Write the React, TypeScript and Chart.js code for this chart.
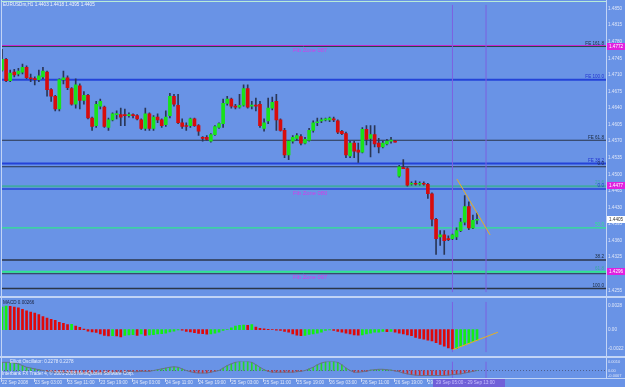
import React, { useEffect, useRef } from 'react';
import { Chart, registerables } from 'chart.js';

Chart.register(...registerables);

// ---------------- data ----------------
const headerText = 'EURUSDm,H1 1.4403 1.4418 1.4395 1.4405';

const opens = [
  1.4720, 1.4743, 1.4698, 1.4716, 1.4712, 1.4716, 1.4726, 1.4704, 1.4702, 1.4700,
  1.4706, 1.4716, 1.4679, 1.4665, 1.4638, 1.4700, 1.4704, 1.4681, 1.4648, 1.4687,
  1.4656, 1.4667, 1.4619, 1.4603, 1.4644, 1.4642, 1.4599, 1.4615, 1.4626, 1.4626,
  1.4626, 1.4624, 1.4626, 1.4624, 1.4615, 1.4597, 1.4628, 1.4597, 1.4621, 1.4615,
  1.4605, 1.4624, 1.4665, 1.4646, 1.4609, 1.4603, 1.4603, 1.4617, 1.4603, 1.4578,
  1.4578, 1.4570, 1.4584, 1.4599, 1.4607, 1.4650, 1.4659, 1.4644, 1.4642, 1.4646,
  1.4681, 1.4644, 1.4646, 1.4648, 1.4597, 1.4613, 1.4640, 1.4654, 1.4615, 1.4593,
  1.4541, 1.4570, 1.4576, 1.4580, 1.4566, 1.4572, 1.4593, 1.4609, 1.4613, 1.4615,
  1.4615, 1.4617, 1.4613, 1.4591, 1.4586, 1.4539, 1.4566, 1.4551, 1.4547, 1.4595,
  1.4576, 1.4584, 1.4566, 1.4558, 1.4564, 1.4570, 1.4570, 1.4496, 1.4514, 1.4512,
  1.4479, 1.4481, 1.4479, 1.4481, 1.4479, 1.4459, 1.4405, 1.4368, 1.4372, 1.4364,
  1.4364, 1.4368, 1.4381, 1.4399, 1.4432, 1.4387, 1.4403,
];
const highs = [
  1.4764, 1.4745, 1.4720, 1.4722, 1.4724, 1.4733, 1.4729, 1.4712, 1.4706, 1.4720,
  1.4726, 1.4718, 1.4681, 1.4667, 1.4702, 1.4718, 1.4708, 1.4683, 1.4702, 1.4691,
  1.4675, 1.4669, 1.4621, 1.4654, 1.4659, 1.4644, 1.4619, 1.4630, 1.4634, 1.4640,
  1.4638, 1.4630, 1.4628, 1.4626, 1.4617, 1.4640, 1.4630, 1.4624, 1.4628, 1.4617,
  1.4634, 1.4671, 1.4669, 1.4669, 1.4617, 1.4609, 1.4619, 1.4619, 1.4605, 1.4580,
  1.4582, 1.4586, 1.4603, 1.4609, 1.4659, 1.4665, 1.4661, 1.4648, 1.4669, 1.4689,
  1.4689, 1.4654, 1.4661, 1.4654, 1.4617, 1.4661, 1.4663, 1.4669, 1.4617, 1.4597,
  1.4572, 1.4582, 1.4586, 1.4584, 1.4578, 1.4597, 1.4613, 1.4619, 1.4619, 1.4619,
  1.4621, 1.4621, 1.4615, 1.4593, 1.4589, 1.4570, 1.4570, 1.4566, 1.4599, 1.4603,
  1.4603, 1.4603, 1.4576, 1.4570, 1.4574, 1.4578, 1.4572, 1.4519, 1.4531, 1.4514,
  1.4484, 1.4486, 1.4484, 1.4484, 1.4481, 1.4461, 1.4407, 1.4381, 1.4381, 1.4370,
  1.4374, 1.4387, 1.4407, 1.4455, 1.4442, 1.4414, 1.4418,
];
const lows = [
  1.4718, 1.4696, 1.4696, 1.4706, 1.4708, 1.4712, 1.4702, 1.4696, 1.4689, 1.4696,
  1.4702, 1.4665, 1.4654, 1.4634, 1.4634, 1.4691, 1.4679, 1.4646, 1.4640, 1.4638,
  1.4648, 1.4617, 1.4593, 1.4599, 1.4638, 1.4599, 1.4593, 1.4613, 1.4617, 1.4603,
  1.4603, 1.4621, 1.4619, 1.4615, 1.4595, 1.4593, 1.4593, 1.4593, 1.4609, 1.4599,
  1.4601, 1.4619, 1.4644, 1.4607, 1.4597, 1.4593, 1.4599, 1.4601, 1.4582, 1.4570,
  1.4572, 1.4568, 1.4582, 1.4597, 1.4599, 1.4646, 1.4640, 1.4638, 1.4640, 1.4644,
  1.4640, 1.4638, 1.4634, 1.4599, 1.4591, 1.4607, 1.4636, 1.4593, 1.4591, 1.4535,
  1.4531, 1.4566, 1.4572, 1.4562, 1.4564, 1.4570, 1.4589, 1.4603, 1.4609, 1.4613,
  1.4611, 1.4611, 1.4586, 1.4584, 1.4535, 1.4535, 1.4535, 1.4525, 1.4545, 1.4562,
  1.4537, 1.4558, 1.4545, 1.4556, 1.4562, 1.4566, 1.4568, 1.4494, 1.4512, 1.4475,
  1.4477, 1.4477, 1.4477, 1.4477, 1.4449, 1.4391, 1.4331, 1.4350, 1.4331, 1.4360,
  1.4362, 1.4362, 1.4379, 1.4393, 1.4383, 1.4385, 1.4395,
];
const closes = [
  1.4743, 1.4698, 1.4714, 1.4710, 1.4718, 1.4726, 1.4704, 1.4702, 1.4700, 1.4708,
  1.4718, 1.4679, 1.4665, 1.4638, 1.4700, 1.4704, 1.4683, 1.4648, 1.4689, 1.4656,
  1.4667, 1.4619, 1.4601, 1.4648, 1.4654, 1.4601, 1.4615, 1.4628, 1.4628, 1.4621,
  1.4624, 1.4626, 1.4624, 1.4617, 1.4597, 1.4628, 1.4597, 1.4621, 1.4615, 1.4603,
  1.4621, 1.4665, 1.4648, 1.4609, 1.4601, 1.4601, 1.4617, 1.4603, 1.4591, 1.4576,
  1.4574, 1.4584, 1.4601, 1.4607, 1.4650, 1.4659, 1.4644, 1.4642, 1.4646, 1.4681,
  1.4642, 1.4646, 1.4644, 1.4603, 1.4609, 1.4640, 1.4652, 1.4615, 1.4593, 1.4541,
  1.4570, 1.4578, 1.4582, 1.4566, 1.4574, 1.4593, 1.4609, 1.4611, 1.4615, 1.4617,
  1.4619, 1.4615, 1.4589, 1.4586, 1.4541, 1.4566, 1.4549, 1.4547, 1.4595, 1.4574,
  1.4584, 1.4564, 1.4558, 1.4566, 1.4570, 1.4572, 1.4568, 1.4516, 1.4512, 1.4477,
  1.4481, 1.4479, 1.4481, 1.4479, 1.4459, 1.4405, 1.4364, 1.4372, 1.4360, 1.4362,
  1.4372, 1.4381, 1.4399, 1.4432, 1.4387, 1.4403, 1.4405,
];

const macdValues = [
  0.00260, 0.00270, 0.00268, 0.00260, 0.00250, 0.00233, 0.00217, 0.00200, 0.00190, 0.00173,
  0.00150, 0.00133, 0.00117, 0.00107, 0.00083, 0.00073, 0.00058, 0.00060, 0.00040, 0.00027,
  0.00005, -0.00017, -0.00027, -0.00033, -0.00050, -0.00067, -0.00073, -0.00070, -0.00073, -0.00083,
  -0.00067, -0.00060, -0.00058, -0.00067, -0.00050, -0.00067, -0.00060, -0.00058, -0.00050, -0.00048,
  -0.00040, -0.00027, -0.00017, -0.00003, -0.00007, -0.00020, -0.00027, -0.00035, -0.00043, -0.00047,
  -0.00052, -0.00050, -0.00040, -0.00030, -0.00010, 0.00000, 0.00020, 0.00040, 0.00050, 0.00053,
  0.00050, 0.00057, 0.00030, 0.00015, 0.00010, 0.00003, 0.00000, -0.00005, -0.00010, -0.00020,
  -0.00030, -0.00050, -0.00063, -0.00070, -0.00067, -0.00055, -0.00050, -0.00040, -0.00030, -0.00010,
  -0.00003, -0.00010, -0.00020, -0.00030, -0.00040, -0.00050, -0.00060, -0.00063, -0.00060, -0.00050,
  -0.00040, -0.00030, -0.00028, -0.00020, -0.00023, -0.00020, -0.00030, -0.00040, -0.00050, -0.00060,
  -0.00070, -0.00090, -0.00100, -0.00110, -0.00120, -0.00130, -0.00150, -0.00170, -0.00190, -0.00210,
  -0.00223, -0.00220, -0.00193, -0.00177, -0.00160, -0.00137, -0.00120,
];

const oscValues = [
  0.0010, 0.0010, 0.0010, 0.0009, 0.0008, 0.0006, 0.0004, 0.0003, 0.0002, 0.0001,
  0.0000, -0.0001, -0.00015, -0.0002, -0.0002, -0.00025, -0.00025, -0.0003, -0.0003, -0.0003,
  -0.0003, -0.0003, -0.0003, -0.0003, -0.0003, -0.00025, -0.00025, -0.0002, -0.0002, -0.0002,
  -0.0002, -0.00015, -0.00015, -0.00015, -0.0001, -0.0001, -0.0001, 0.0000, 0.0001, 0.0002,
  0.0003, 0.0004, 0.00045, 0.0004, 0.0002, 0.0000, -0.00015, -0.00025, -0.0003, -0.0003,
  -0.0003, -0.0002, -0.0001, 0.0000, 0.0003, 0.0006, 0.0008, 0.0010, 0.0011, 0.00115,
  0.0011, 0.0010, 0.0007, 0.0004, 0.0001, -0.0001, -0.0002, -0.0002, -0.0002, -0.0002,
  -0.0002, -0.0002, -0.00015, -0.0001, 0.0000, 0.0002, 0.0004, 0.0007, 0.0009, 0.00105,
  0.0011, 0.0011, 0.0010, 0.0007, 0.0003, 0.0000, -0.0002, -0.0002, -0.00015, -0.0001,
  0.00005, 0.0001, 0.00015, 0.00015, 0.0001, 0.00005, -0.00005, -0.00015, -0.0003, -0.0004,
  -0.0005, -0.00055, -0.0006, -0.0006, -0.0006, -0.0006, -0.0006, -0.0006, -0.0006, -0.00055,
  -0.0005, -0.00045, -0.0004, -0.0003, -0.0002, -0.0001, 0.0000,
];

const timeLabelBars = [0, 8, 16, 24, 32, 40, 48, 56, 64, 72, 80, 88, 96, 104];
const timeLabels = [
  '22 Sep 2008', '23 Sep 03:00', '23 Sep 11:00', '23 Sep 19:00', '24 Sep 03:00',
  '24 Sep 11:00', '24 Sep 19:00', '25 Sep 03:00', '25 Sep 11:00', '25 Sep 19:00',
  '26 Sep 03:00', '26 Sep 11:00', '26 Sep 19:00', '29 Sep 03:00',
];
const selectedRangeText = '29 Sep 05:00 - 29 Sep 13:00';

const priceTicks = [
  1.4850, 1.4815, 1.4780, 1.4745, 1.4710, 1.4675, 1.4640, 1.4605, 1.4570,
  1.4535, 1.4500, 1.4465, 1.4430, 1.4395, 1.4360, 1.4325, 1.4290, 1.4255,
];
const macdTicks = [0.0028, 0, -0.0022];
const oscTicks = [0.0010, 0, -0.0007];

const fibLevelPrices = [1.4772, 1.4770, 1.4700, 1.4572, 1.4523, 1.4516, 1.4475, 1.4469, 1.4387, 1.4319, 1.4294, 1.4290, 1.4259];
const fibLabelPrices = [1.4770, 1.4700, 1.4572, 1.4523, 1.4516, 1.4475, 1.4469, 1.4387, 1.4319, 1.4294, 1.4259];
const fibLabelTexts = ['FE 161.8', 'FE 100.0', 'FE 61.8', 'FE 38.2', '0.0', '23.6', '0.0', '50.0', '38.2', '61.8', '100.0'];
const fibZonePrices = [1.4770, 1.4469, 1.4290];
const fibZoneTexts = ['Fib Zone 087', 'Fib Zone 080', 'Fib Zone 097'];
const tagPrices = [1.4772, 1.4477, 1.4405, 1.4296];

const vLineBars = [110, 118.2];
const trendBars = [111.1, 119.2];
const trendPrices = [1.4490, 1.4372];
const macdTrendBars = [110.1, 121.1];
const macdTrendValues = [-0.0023, -0.0003];

const macdLabel = 'MACD 0.00266';
const oscLabel = 'Elliott Oscillator: 0.2278 0.2278';
const copyrightText = 'Interbank FX Trader 4, \u00a9 2001-2008 MetaQuotes Software Corp.';

// ---------------- layout / style ----------------
const W = 625;
const BG = '#6993e6';
const FONT = '"Liberation Sans", "DejaVu Sans", sans-serif';
const X_MIN = -0.244;
const X_MAX = 147.5;
const PRICE_MAX = 1.485823;
const PRICE_MIN = 1.425088;
const MACD_MAX = 0.0032;
const MACD_MIN = -0.0026;
const OSC_MAX = 0.0011;
const OSC_MIN = -0.0009;

const BULL = '#1ae21a';
const BEAR = '#d80c0c';
const WICK = '#2a3656';
const VLINE = '#7d60e0';
const TREND = '#e8b020';
const LIGHT = '#c2d4f6';
const AXIS_TEXT = '#dfe6f8';

const fibLineColors = ['#cc22cc', '#1e4a3c', '#2443d8', '#2b3548', '#2443d8', '#2b3548', '#42a8a4', '#2443d8', '#2ee68e', '#2b3548', '#2ee68e', '#2b3548', '#2b3548'];
const fibLineWidths = [1, 1, 2, 1.2, 2, 1.2, 2, 1.5, 1.2, 1.5, 2, 1, 1.5];
const fibLabelColors = ['#1c2a3c', '#2233d0', '#1c2a3c', '#2233d0', '#1c2a3c', '#3aa8a0', '#2233d0', '#2ee68e', '#1c2a3c', '#3aa8a0', '#1c2a3c'];
const tagFills = ['#e020e0', '#e020e0', '#ffffff', '#e020e0'];
const tagTextColors = ['#ffffff', '#ffffff', '#303030', '#ffffff'];

const bars = opens.map((_, i) => i);

function yAxis(min: number, max: number, ticks: number[], fmt: (v: number) => string, size: number) {
  return {
    position: 'right',
    min,
    max,
    afterBuildTicks: (s: any) => {
      s.ticks = ticks.map((v) => ({ value: v }));
    },
    afterFit: (s: any) => {
      s.width = 19;
    },
    grid: { display: false, drawTicks: false },
    border: { display: false },
    ticks: {
      autoSkip: false,
      padding: 2,
      color: AXIS_TEXT,
      font: { size, family: FONT },
      callback: (v: any) => fmt(Number(v)),
    },
  };
}

const xAxis = { type: 'linear', min: X_MIN, max: X_MAX, display: false, offset: false };

function vLineSets(min: number, max: number) {
  return vLineBars.map((b) => ({
    type: 'line',
    data: [{ x: b, y: min }, { x: b, y: max }],
    borderColor: VLINE,
    borderWidth: 1,
    pointRadius: 0,
    fill: false,
    order: 4,
  }));
}

function text(ctx: any, s: string, x: number, y: number, color: string, size: number, align = 'left') {
  ctx.font = `${size}px ${FONT}`;
  ctx.fillStyle = color;
  ctx.textAlign = align;
  ctx.textBaseline = 'middle';
  ctx.fillText(s, x, y);
}

function baseOptions(padding: any, yScale: any) {
  return {
    responsive: false,
    animation: false,
    events: [],
    layout: { padding },
    plugins: { legend: { display: false }, tooltip: { enabled: false } },
    scales: { x: xAxis, y: yScale },
  };
}

function buildMain(canvas: HTMLCanvasElement) {
  const datasets: any[] = [
    {
      type: 'line',
      data: trendBars.map((b, i) => ({ x: b, y: trendPrices[i] })),
      borderColor: TREND,
      borderWidth: 1,
      pointRadius: 0,
      fill: false,
      order: -1,
    },
    {
      type: 'bar',
      data: bars.map((i) => ({ x: i, y: [opens[i], closes[i]] })),
      backgroundColor: bars.map((i) => (closes[i] >= opens[i] ? BULL : BEAR)),
      barThickness: 3,
      minBarLength: 1,
      grouped: false,
      order: 1,
    },
    {
      type: 'bar',
      data: bars.map((i) => ({ x: i, y: [lows[i], highs[i]] })),
      backgroundColor: WICK,
      barThickness: 1,
      grouped: false,
      order: 2,
    },
    ...vLineSets(PRICE_MIN, PRICE_MAX),
    ...fibLevelPrices.map((p, i) => ({
      type: 'line',
      data: [{ x: X_MIN, y: p }, { x: X_MAX, y: p }],
      borderColor: fibLineColors[i],
      borderWidth: fibLineWidths[i],
      pointRadius: 0,
      fill: false,
      order: 5,
    })),
  ];
  const decor = {
    id: 'mainDecor',
    afterDatasetsDraw(chart: any) {
      const { ctx, scales } = chart;
      const y = scales.y;
      ctx.save();
      text(ctx, headerText, 3, 5, '#f4f6ff', 4.6);
      fibLabelPrices.forEach((p, i) => {
        text(ctx, fibLabelTexts[i], 604, y.getPixelForValue(p) - 3, fibLabelColors[i], 4.6, 'right');
      });
      fibZonePrices.forEach((p, i) => {
        text(ctx, fibZoneTexts[i], 293, y.getPixelForValue(p) + 4, '#d23ee8', 5.8);
      });
      ctx.restore();
    },
    afterDraw(chart: any) {
      const { ctx, scales } = chart;
      const y = scales.y;
      ctx.save();
      ctx.fillStyle = LIGHT;
      ctx.fillRect(1, 0, 1, 297);
      ctx.fillRect(606, 0, 1, 297);
      ctx.fillRect(0, 296, W, 1);
      ctx.fillStyle = '#b8ecd8';
      ctx.fillRect(1, 1, 605, 1);
      tagPrices.forEach((p, i) => {
        const py = Math.round(y.getPixelForValue(p));
        ctx.fillStyle = tagFills[i];
        ctx.fillRect(607, py - 3, 18, 7);
        text(ctx, p.toFixed(4), 609, py + 0.5, tagTextColors[i], 4.6);
      });
      ctx.restore();
    },
  };
  return new Chart(canvas, {
    type: 'bar',
    data: { datasets },
    options: baseOptions(
      { top: 1, bottom: 1, left: 1, right: 0 },
      yAxis(PRICE_MIN, PRICE_MAX, priceTicks, (v) => v.toFixed(4), 4.6),
    ),
    plugins: [decor],
  } as any);
}

function buildMacd(canvas: HTMLCanvasElement) {
  const datasets: any[] = [
    {
      type: 'line',
      data: macdTrendBars.map((b, i) => ({ x: b, y: macdTrendValues[i] })),
      borderColor: TREND,
      borderWidth: 1,
      pointRadius: 0,
      fill: false,
      order: -1,
    },
    {
      type: 'bar',
      data: bars.map((i) => ({ x: i, y: macdValues[i] })),
      backgroundColor: bars.map((i) => (i === 0 || macdValues[i] > macdValues[i - 1] ? '#12ee12' : '#e00808')),
      barThickness: 2,
      grouped: false,
      order: 1,
    },
    ...vLineSets(MACD_MIN, MACD_MAX),
  ];
  const decor = {
    id: 'macdDecor',
    afterDraw(chart: any) {
      const { ctx } = chart;
      ctx.save();
      ctx.fillStyle = LIGHT;
      ctx.fillRect(1, 0, 1, 60);
      ctx.fillRect(606, 0, 1, 60);
      ctx.fillRect(0, 0, W, 1);
      ctx.fillRect(0, 59, W, 1);
      text(ctx, macdLabel, 3, 6, '#1a2340', 4.6);
      ctx.restore();
    },
  };
  return new Chart(canvas, {
    type: 'bar',
    data: { datasets },
    options: baseOptions(
      { top: 1, bottom: 1, left: 1, right: 0 },
      yAxis(MACD_MIN, MACD_MAX, macdTicks, (v) => (v === 0 ? '0.00' : v.toFixed(4)), 4.6),
    ),
    plugins: [decor],
  } as any);
}

function buildOsc(canvas: HTMLCanvasElement) {
  const datasets: any[] = [
    {
      type: 'line',
      data: bars.map((i) => ({ x: i, y: oscValues[i] })),
      borderColor: '#69708a',
      borderWidth: 1,
      pointRadius: 0,
      fill: false,
      order: 0,
    },
    {
      type: 'bar',
      data: bars.map((i) => ({ x: i, y: oscValues[i] })),
      backgroundColor: bars.map((i) => (oscValues[i] >= 0 ? '#26d826' : '#d02828')),
      barThickness: 1,
      grouped: false,
      order: 1,
    },
    {
      type: 'line',
      data: [{ x: X_MIN, y: 0 }, { x: X_MAX, y: 0 }],
      borderColor: '#4d5f8e',
      borderWidth: 1,
      borderDash: [1, 2],
      pointRadius: 0,
      fill: false,
      order: 6,
    },
    ...vLineSets(OSC_MIN, OSC_MAX),
  ];
  const decor = {
    id: 'oscDecor',
    afterDraw(chart: any) {
      const { ctx, scales } = chart;
      const x = scales.x;
      ctx.save();
      ctx.fillStyle = LIGHT;
      ctx.fillRect(1, 0, 1, 21);
      ctx.fillRect(606, 0, 1, 21);
      ctx.fillRect(0, 0, W, 1);
      ctx.fillRect(0, 21, W, 1);
      text(ctx, oscLabel, 10, 5, '#e8eefc', 4.6);
      text(ctx, copyrightText, 2, 17, '#eef2fd', 4.6);
      timeLabelBars.forEach((b, i) => {
        const px = x.getPixelForValue(b) - 1;
        ctx.fillStyle = '#c8d6f4';
        ctx.fillRect(Math.round(px), 22, 1, 3);
        text(ctx, timeLabels[i], px + 1, 25.5, AXIS_TEXT, 4.6);
      });
      const bx0 = Math.round(x.getPixelForValue(vLineBars[0])) - 19;
      const bx1 = Math.round(x.getPixelForValue(vLineBars[1])) + 19;
      ctx.fillStyle = '#7060d8';
      ctx.fillRect(bx0, 22, bx1 - bx0, 8);
      text(ctx, selectedRangeText, bx0 + 3, 26, '#c8c0ff', 4.6);
      ctx.restore();
    },
  };
  return new Chart(canvas, {
    type: 'bar',
    data: { datasets },
    options: baseOptions(
      { top: 1, bottom: 9, left: 1, right: 0 },
      yAxis(OSC_MIN, OSC_MAX, oscTicks, (v) => (v === 0 ? '0.00' : v.toFixed(4)), 4),
    ),
    plugins: [decor],
  } as any);
}

export default function App() {
  const mainRef = useRef<HTMLCanvasElement>(null);
  const macdRef = useRef<HTMLCanvasElement>(null);
  const oscRef = useRef<HTMLCanvasElement>(null);

  useEffect(() => {
    document.body.style.margin = '0';
    const charts: any[] = [];
    if (mainRef.current) charts.push(buildMain(mainRef.current));
    if (macdRef.current) charts.push(buildMacd(macdRef.current));
    if (oscRef.current) charts.push(buildOsc(oscRef.current));
    return () => charts.forEach((c) => c.destroy());
  }, []);

  return (
    <div style={{ position: 'relative', width: W, height: 387, background: BG, overflow: 'hidden' }}>
      <canvas ref={mainRef} width={W} height={297} style={{ position: 'absolute', left: 0, top: 0, display: 'block' }} />
      <canvas ref={macdRef} width={W} height={60} style={{ position: 'absolute', left: 0, top: 297, display: 'block' }} />
      <canvas ref={oscRef} width={W} height={30} style={{ position: 'absolute', left: 0, top: 357, display: 'block' }} />
    </div>
  );
}
